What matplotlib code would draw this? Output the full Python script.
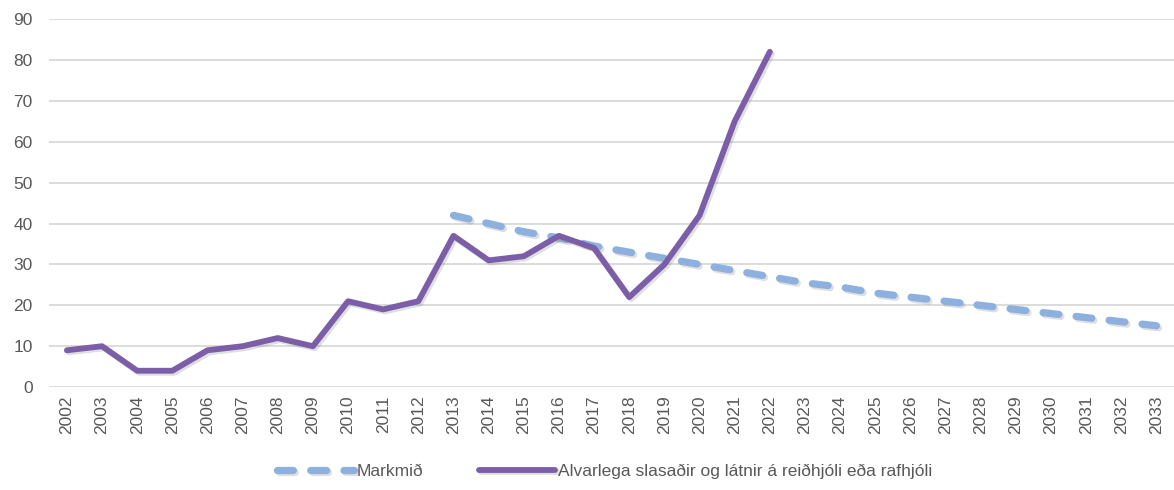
import matplotlib.pyplot as plt
import matplotlib.patheffects as pe

# ============================================================
# Data
# ============================================================

years = list(range(2002, 2034))

actual_years = list(range(2002, 2023))
actual_values = [9, 10, 4, 4, 9, 10, 12, 10, 21, 19, 21,
                 37, 31, 32, 37, 34, 22, 30, 42, 65, 82]

target_years = list(range(2013, 2034))
target_values = [42, 40, 38, 36.5, 34.5, 33, 31.5, 30, 28.5, 27, 25.5,
                 24.5, 23, 22, 21, 20, 19, 18, 17, 16, 15]

target_label = "Markmið"
actual_label = "Alvarlega slasaðir og látnir á reiðhjóli eða rafhjóli"

# ============================================================
# Plot
# ============================================================

plt.rcParams["font.family"] = ["Liberation Sans", "DejaVu Sans"]

fig = plt.figure(figsize=(11.74, 4.9), dpi=100)
ax = fig.add_axes([0.042, 0.21, 0.958, 0.751])

shadow = [pe.SimpleLineShadow(offset=(1.5, -1.5), alpha=0.25, shadow_color="gray"), pe.Normal()]

ax.plot(target_years, target_values, color="#8db0de", linewidth=5.2,
        linestyle=(0, (2.2, 2.4)), dash_capstyle="round",
        label=target_label, path_effects=shadow, zorder=3)
ax.plot(actual_years, actual_values, color="#7c5ea8", linewidth=4.2,
        solid_capstyle="round", solid_joinstyle="round",
        label=actual_label, path_effects=shadow, zorder=4)

ax.set_xlim(years[0] - 0.5, years[-1] + 0.5)
ax.set_ylim(0, 90)
ax.set_yticks(range(0, 91, 10))
ax.set_xticks(years)
ax.set_xticklabels([str(y) for y in years], rotation=90)

ax.grid(axis="y", color="#d9d9d9", linewidth=1.3)
ax.set_axisbelow(True)
for s in ax.spines.values():
    s.set_visible(False)
ax.tick_params(length=0, labelsize=12.5, colors="#595959", pad=6)
ax.tick_params(axis="y", pad=12)

leg = fig.legend(loc="lower center", bbox_to_anchor=(0.515, -0.01), ncol=2,
                 frameon=False, fontsize=12.5, handlelength=4.4,
                 handletextpad=0.15, columnspacing=3.2)
for t in leg.get_texts():
    t.set_color("#595959")

fig.savefig("out.png", dpi=100)
